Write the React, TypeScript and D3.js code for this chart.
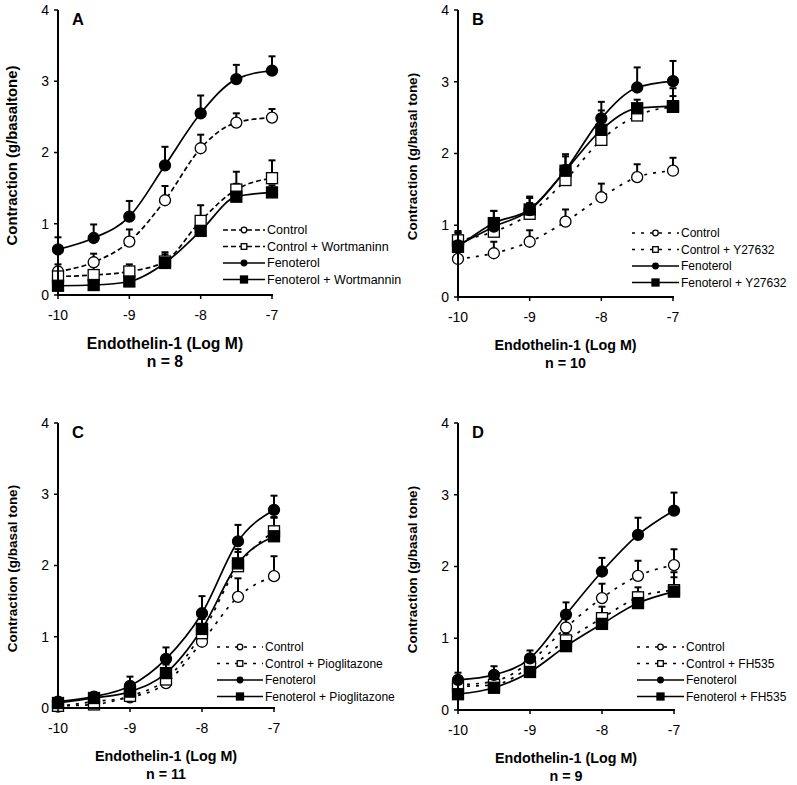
import React from "react";
import * as d3 from "d3";

const doses = [-10, -9.5, -9, -8.5, -8, -7.5, -7];
const xTicks = [-10, -9, -8, -7];
const yTicks = [0, 1, 2, 3, 4];

// Panel A
const aCtrl = [0.33, 0.46, 0.75, 1.33, 2.06, 2.42, 2.49];
const aCtrlSem = [0.1, 0.12, 0.17, 0.2, 0.19, 0.13, 0.12];
const aCtrlW = [0.26, 0.28, 0.33, 0.47, 1.04, 1.48, 1.64];
const aCtrlWSem = [0.12, 0.12, 0.1, 0.13, 0.22, 0.25, 0.25];
const aFen = [0.64, 0.8, 1.1, 1.82, 2.55, 3.03, 3.15];
const aFenSem = [0.17, 0.19, 0.22, 0.26, 0.25, 0.2, 0.2];
const aFenW = [0.13, 0.14, 0.19, 0.45, 0.9, 1.38, 1.44];
const aFenWSem = [0.05, 0.05, 0.05, 0.12, 0.15, 0.18, 0.1];

// Panel B
const bCtrl = [0.53, 0.61, 0.77, 1.05, 1.39, 1.67, 1.76];
const bCtrlSem = [0.1, 0.16, 0.16, 0.17, 0.19, 0.18, 0.18];
const bCtrlY = [0.79, 0.91, 1.16, 1.63, 2.19, 2.53, 2.65];
const bCtrlYSem = [0.1, 0.15, 0.15, 0.2, 0.2, 0.15, 0.15];
const bFen = [0.72, 0.98, 1.21, 1.77, 2.49, 2.92, 3.01];
const bFenSem = [0.2, 0.22, 0.19, 0.22, 0.23, 0.28, 0.28];
const bFenY = [0.7, 1.03, 1.22, 1.76, 2.33, 2.63, 2.66];
const bFenYSem = [0.2, 0.17, 0.16, 0.2, 0.27, 0.12, 0.25];

// Panel C
const cCtrl = [0.02, 0.09, 0.15, 0.35, 0.93, 1.56, 1.85];
const cCtrlSem = [0.05, 0.05, 0.05, 0.05, 0.08, 0.26, 0.28];
const cCtrlP = [0.03, 0.05, 0.17, 0.4, 1.05, 1.99, 2.48];
const cCtrlPSem = [0.05, 0.05, 0.08, 0.1, 0.12, 0.2, 0.2];
const cFen = [0.09, 0.16, 0.31, 0.69, 1.33, 2.34, 2.78];
const cFenSem = [0.05, 0.05, 0.13, 0.16, 0.24, 0.23, 0.2];
const cFenP = [0.07, 0.14, 0.23, 0.49, 1.11, 2.03, 2.41];
const cFenPSem = [0.04, 0.04, 0.08, 0.12, 0.14, 0.2, 0.26];

// Panel D
const dCtrl = [0.35, 0.4, 0.67, 1.15, 1.56, 1.87, 2.02];
const dCtrlSem = [0.1, 0.1, 0.1, 0.15, 0.2, 0.21, 0.22];
const dCtrlF = [0.33, 0.35, 0.6, 0.97, 1.28, 1.57, 1.67];
const dCtrlFSem = [0.1, 0.1, 0.1, 0.1, 0.16, 0.14, 0.25];
const dFen = [0.42, 0.49, 0.72, 1.33, 1.93, 2.44, 2.78];
const dFenSem = [0.1, 0.12, 0.11, 0.17, 0.19, 0.24, 0.25];
const dFenF = [0.22, 0.31, 0.53, 0.89, 1.2, 1.49, 1.65];
const dFenFSem = [0.05, 0.05, 0.06, 0.07, 0.1, 0.15, 0.2];

const panelLetters = ["A", "B", "C", "D"];
const yTitles = [
  "Contraction (g/basaltone)",
  "Contraction (g/basal tone)",
  "Contraction (g/basal tone)",
  "Contraction (g/basal tone)",
];
const xTitle = "Endothelin-1 (Log M)";
const nLabels = ["n = 8", "n = 10", "n = 11", "n = 9"];
const legendA = ["Control", "Control + Wortmaninn", "Fenoterol", "Fenoterol + Wortmannin"];
const legendB = ["Control", "Control + Y27632", "Fenoterol", "Fenoterol + Y27632"];
const legendC = ["Control", "Control + Pioglitazone", "Fenoterol", "Fenoterol + Pioglitazone"];
const legendD = ["Control", "Control + FH535", "Fenoterol", "Fenoterol + FH535"];

type Series = { vals: number[]; sem: number[]; kind: "oc" | "os" | "fc" | "fs" };

const panels = [
  {
    left: 58, right: 272, top: 10, bottom: 295, fs: 1.1,
    legend: legendA, legX: 223, legY: 230, legLen: 42, legDash: "5,3", legFs: 12.5,
    series: [
      { vals: aCtrl, sem: aCtrlSem, kind: "oc" },
      { vals: aCtrlW, sem: aCtrlWSem, kind: "os" },
      { vals: aFen, sem: aFenSem, kind: "fc" },
      { vals: aFenW, sem: aFenWSem, kind: "fs" },
    ] as Series[],
    dash: "5,3",
  },
  {
    left: 458, right: 673, top: 10, bottom: 297, fs: 1,
    legend: legendB, legX: 632, legY: 233, legLen: 47, legDash: "3,6", legFs: 12,
    series: [
      { vals: bCtrl, sem: bCtrlSem, kind: "oc" },
      { vals: bCtrlY, sem: bCtrlYSem, kind: "os" },
      { vals: bFen, sem: bFenSem, kind: "fc" },
      { vals: bFenY, sem: bFenYSem, kind: "fs" },
    ] as Series[],
    dash: "3,6",
  },
  {
    left: 58, right: 274, top: 423, bottom: 708, fs: 1,
    legend: legendC, legX: 217, legY: 647, legLen: 46, legDash: "3,6", legFs: 12,
    series: [
      { vals: cCtrl, sem: cCtrlSem, kind: "oc" },
      { vals: cCtrlP, sem: cCtrlPSem, kind: "os" },
      { vals: cFen, sem: cFenSem, kind: "fc" },
      { vals: cFenP, sem: cFenPSem, kind: "fs" },
    ] as Series[],
    dash: "3,6",
  },
  {
    left: 458, right: 674, top: 423, bottom: 710, fs: 1,
    legend: legendD, legX: 637, legY: 647, legLen: 47, legDash: "3,6", legFs: 12,
    series: [
      { vals: dCtrl, sem: dCtrlSem, kind: "oc" },
      { vals: dCtrlF, sem: dCtrlFSem, kind: "os" },
      { vals: dFen, sem: dFenSem, kind: "fc" },
      { vals: dFenF, sem: dFenFSem, kind: "fs" },
    ] as Series[],
    dash: "3,6",
  },
];

const FONT = "Arial, 'Liberation Sans', sans-serif";

function Marker({ x, y, kind, r }: { x: number; y: number; kind: string; r: number }) {
  const filled = kind === "fc" || kind === "fs";
  const fill = filled ? "#000" : "#fff";
  if (kind === "oc" || kind === "fc") {
    return <circle cx={x} cy={y} r={r} fill={fill} stroke="#000" strokeWidth={1.3} />;
  }
  return <rect x={x - r} y={y - r} width={2 * r} height={2 * r} fill={fill} stroke="#000" strokeWidth={1.3} />;
}

function Panel({ p, i }: { p: any; i: number }) {
  const x = d3.scaleLinear().domain([-10, -7]).range([p.left, p.right]);
  const y = d3.scaleLinear().domain([0, 4]).range([p.bottom, p.top]);
  const line = d3
    .line<number>()
    .x((_, j) => x(doses[j]))
    .y((v) => y(v))
    .curve(d3.curveMonotoneX);
  const cx = (p.left + p.right) / 2;
  const cy = (p.top + p.bottom) / 2;
  const fs = p.fs;
  return (
    <g fontFamily={FONT}>
      {p.series.map((s: Series, k: number) => (
        <path
          key={"l" + k}
          d={line(s.vals) || ""}
          fill="none"
          stroke="#000"
          strokeWidth={1.7}
          strokeDasharray={s.kind === "oc" || s.kind === "os" ? p.dash : undefined}
        />
      ))}
      {p.series.map((s: Series, k: number) =>
        s.vals.map((v, j) => (
          <g key={"e" + k + "-" + j}>
            <line x1={x(doses[j])} x2={x(doses[j])} y1={y(v)} y2={y(v + s.sem[j])} stroke="#000" strokeWidth={2} />
            <line x1={x(doses[j]) - 3.5} x2={x(doses[j]) + 3.5} y1={y(v + s.sem[j])} y2={y(v + s.sem[j])} stroke="#000" strokeWidth={2} />
          </g>
        ))
      )}
      {p.series.map((s: Series, k: number) =>
        s.vals.map((v, j) => (
          <Marker key={"m" + k + "-" + j} x={x(doses[j])} y={y(v)} kind={s.kind} r={5.5} />
        ))
      )}
      <line x1={p.left} x2={p.left} y1={p.top} y2={p.bottom + 1} stroke="#000" strokeWidth={2} />
      <line x1={p.left - 1} x2={p.right + 1} y1={p.bottom} y2={p.bottom} stroke="#000" strokeWidth={2} />
      {yTicks.map((t) => (
        <g key={"yt" + t}>
          <line x1={p.left - 4} x2={p.left} y1={y(t)} y2={y(t)} stroke="#000" strokeWidth={1.5} />
          <text x={p.left - 9} y={y(t)} dy="0.35em" textAnchor="end" fontSize={14}>
            {t}
          </text>
        </g>
      ))}
      {xTicks.map((t) => (
        <g key={"xt" + t}>
          <line x1={x(t)} x2={x(t)} y1={p.bottom} y2={p.bottom + 4} stroke="#000" strokeWidth={1.5} />
          <text x={x(t)} y={p.bottom + 20} dy="0.35em" textAnchor="middle" fontSize={14}>
            {t}
          </text>
        </g>
      ))}
      <text x={p.left + 14} y={p.top + 9} dy="0.35em" fontSize={16.5} fontWeight="bold">
        {panelLetters[i]}
      </text>
      <text
        transform={`translate(${p.left - 46},${cy + 3}) rotate(-90)`}
        textAnchor="middle"
        dy="0.35em"
        fontSize={13.5 * fs}
        fontWeight="bold"
      >
        {yTitles[i]}
      </text>
      <text x={cx} y={p.bottom + 48} dy="0.35em" textAnchor="middle" fontSize={14.3 * fs} fontWeight="bold">
        {xTitle}
      </text>
      <text x={cx} y={p.bottom + 66} dy="0.35em" textAnchor="middle" fontSize={14.3 * fs} fontWeight="bold">
        {nLabels[i]}
      </text>
      {p.legend.map((lab: string, k: number) => {
        const ly = p.legY + k * 16.5;
        const s = p.series[k];
        const open = s.kind === "oc" || s.kind === "os";
        return (
          <g key={"lg" + k}>
            <line
              x1={p.legX}
              x2={p.legX + p.legLen}
              y1={ly}
              y2={ly}
              stroke="#000"
              strokeWidth={1.7}
              strokeDasharray={open ? p.legDash : undefined}
            />
            <Marker x={p.legX + p.legLen / 2} y={ly} kind={s.kind} r={s.kind === "fs" ? 3.5 : 2.8} />
            <text x={p.legX + p.legLen + 2} y={ly} dy="0.35em" fontSize={p.legFs}>
              {lab}
            </text>
          </g>
        );
      })}
    </g>
  );
}

export default function App() {
  return (
    <svg
      width={797}
      height={785}
      style={{ position: "absolute", left: 0, top: 0, background: "#fff" }}
    >
      <rect width={797} height={785} fill="#fff" />
      {panels.map((p, i) => (
        <Panel key={i} p={p} i={i} />
      ))}
    </svg>
  );
}
